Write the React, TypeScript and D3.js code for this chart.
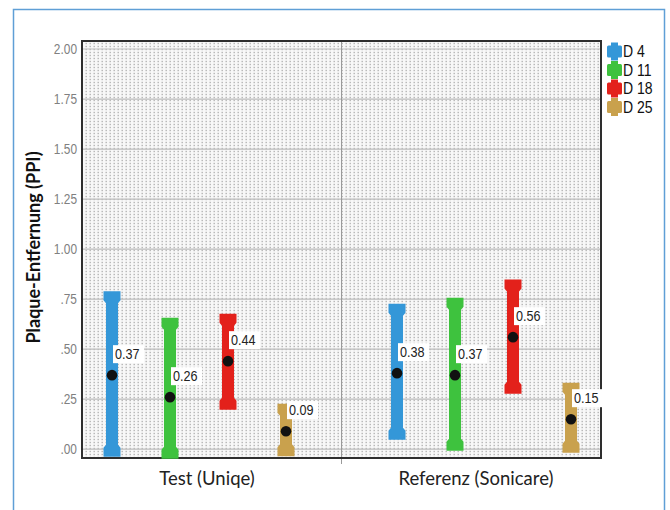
import React from 'react';
import * as d3 from 'd3';

// chart values
const groups = ['Test (Uniqe)', 'Referenz (Sonicare)'];
const series = ['D 4', 'D 11', 'D 18', 'D 25'];
const colors = ['#3497d8', '#3ec23e', '#e3211b', '#c9a14d'];
const means = [
  [0.37, 0.26, 0.44, 0.09],
  [0.38, 0.37, 0.56, 0.15],
];
const lower = [
  [-0.015, -0.025, 0.22, -0.013],
  [0.07, 0.015, 0.3, 0.005],
];
const upper = [
  [0.767, 0.635, 0.655, 0.205],
  [0.705, 0.735, 0.825, 0.31],
];
const yTicks = [0, 0.25, 0.5, 0.75, 1, 1.25, 1.5, 1.75, 2];
const yTickLabels = ['.00', '.25', '.50', '.75', '1.00', '1.25', '1.50', '1.75', '2.00'];

const W = 670;
const H = 510;
const plot = { left: 82, top: 41, right: 601, bottom: 458 };

const sans = '"Liberation Sans", Arial, sans-serif';
const humanist = "Lato, 'Open Sans', sans-serif";

const App: React.FC = () => {
  const y = d3.scaleLinear().domain([-0.044, 2.04]).range([plot.bottom, plot.top]);

  // outer bands for the clusters, inner points for the days
  const x0 = d3.scaleBand<string>().domain(groups).range([83, 600]).paddingInner(0.186);
  const x1 = d3.scalePoint<string>().domain(series).range([0, x0.bandwidth()]).padding(0.5);

  // category labels on the axis
  const xLabel = d3.scalePoint<string>().domain(groups).range([plot.left, plot.right]).padding(0.465);

  const capW = 17;
  const shaftW = 12;
  const capH = 9;
  const taper = 3;

  const barPath = (cx: number, yHi: number, yLo: number) => {
    const top = yHi - capH / 2;
    const bot = yLo + capH / 2;
    const c = capW / 2;
    const s = shaftW / 2;
    return [
      `M${cx - c},${top}`,
      `L${cx + c},${top}`,
      `L${cx + c},${top + capH}`,
      `L${cx + s},${top + capH + taper}`,
      `L${cx + s},${bot - capH - taper}`,
      `L${cx + c},${bot - capH}`,
      `L${cx + c},${bot}`,
      `L${cx - c},${bot}`,
      `L${cx - c},${bot - capH}`,
      `L${cx - s},${bot - capH - taper}`,
      `L${cx - s},${top + capH + taper}`,
      `L${cx - c},${top + capH}`,
      'Z',
    ].join(' ');
  };

  const midX = (plot.left + plot.right) / 2;

  return (
    <svg width={W} height={H} style={{ position: 'absolute', left: 0, top: 0, background: '#fff' }}>
      <defs>
        <pattern id="dots" width="4" height="3" patternUnits="userSpaceOnUse">
          <rect width="4" height="3" fill="#f8f8f8" />
          <rect x="1.5" y="0.8" width="1.4" height="1.4" fill="#b4b4b4" />
        </pattern>
      </defs>

      {/* outer frame */}
      <path d={`M13.5,${H + 5} L13.5,9.5 L664.5,9.5 L664.5,${H + 5}`} fill="none" stroke="#5f9fd6" strokeWidth={1.5} />

      {/* plot background */}
      <rect x={plot.left} y={plot.top} width={plot.right - plot.left} height={plot.bottom - plot.top} fill="url(#dots)" />

      {/* gridlines */}
      {yTicks.map((t) => (
        <line key={t} x1={plot.left} x2={plot.right} y1={y(t)} y2={y(t)} stroke="#bdbdbd" strokeWidth={1.2} />
      ))}
      <line x1={midX} x2={midX} y1={plot.top} y2={plot.bottom + 6} stroke="#9a9a9a" strokeWidth={1} />

      {/* frame */}
      <rect x={plot.left} y={plot.top} width={plot.right - plot.left} height={plot.bottom - plot.top}
        fill="none" stroke="#2e2e2e" strokeWidth={2} />

      {/* y tick labels, squeezed like a narrow face */}
      {yTicks.map((t, i) => (
        <text key={t} transform={`translate(77,${y(t)}) scale(0.85,1)`} dy="0.35em" textAnchor="end"
          fontFamily={sans} fontSize={14} fill="#808080">
          {yTickLabels[i]}
        </text>
      ))}

      {/* y title */}
      <text transform={`translate(40,${(plot.top + plot.bottom) / 2 - 2}) rotate(-90)`} textAnchor="middle"
        fontFamily={humanist} fontWeight="bold" fontSize={18} fill="#111">
        Plaque-Entfernung (PPI)
      </text>

      {/* x labels */}
      {groups.map((g) => (
        <text key={g} x={xLabel(g)} y={485} textAnchor="middle" fontFamily={humanist}
          fontSize={18.5} fill="#222">
          {g}
        </text>
      ))}

      {/* error bars */}
      {groups.map((g, gi) =>
        series.map((s, si) => {
          const cx = (x0(g) ?? 0) + (x1(s) ?? 0);
          return (
            <path key={`${g}-${s}`} d={barPath(cx, y(upper[gi][si]), y(lower[gi][si]))} fill={colors[si]} />
          );
        })
      )}

      {/* means and value labels */}
      {groups.map((g, gi) =>
        series.map((s, si) => {
          const cx = (x0(g) ?? 0) + (x1(s) ?? 0);
          const cy = y(means[gi][si]);
          return (
            <g key={`m-${g}-${s}`}>
              <rect x={cx + 1} y={cy - 30} width={31} height={18} fill="#fff" />
              <text transform={`translate(${cx + 3},${cy - 16}) scale(0.87,1)`} fontFamily={sans}
                fontSize={14.5} fill="#222">
                {means[gi][si].toFixed(2)}
              </text>
              <circle cx={cx} cy={cy} r={5.3} fill="#111" />
            </g>
          );
        })
      )}

      {/* legend */}
      {series.map((s, i) => {
        const cy = 51.5 + i * 18.5;
        return (
          <g key={s}>
            <rect x={611} y={cy - 9} width={7} height={18} fill={colors[i]} />
            <rect x={607} y={cy - 6} width={15} height={12} rx={1.5} fill={colors[i]} />
            <text transform={`translate(623,${cy}) scale(0.85,1)`} dy="0.36em" fontFamily={sans}
              fontSize={16.5} fill="#111">
              {s}
            </text>
          </g>
        );
      })}
    </svg>
  );
};

export default App;
